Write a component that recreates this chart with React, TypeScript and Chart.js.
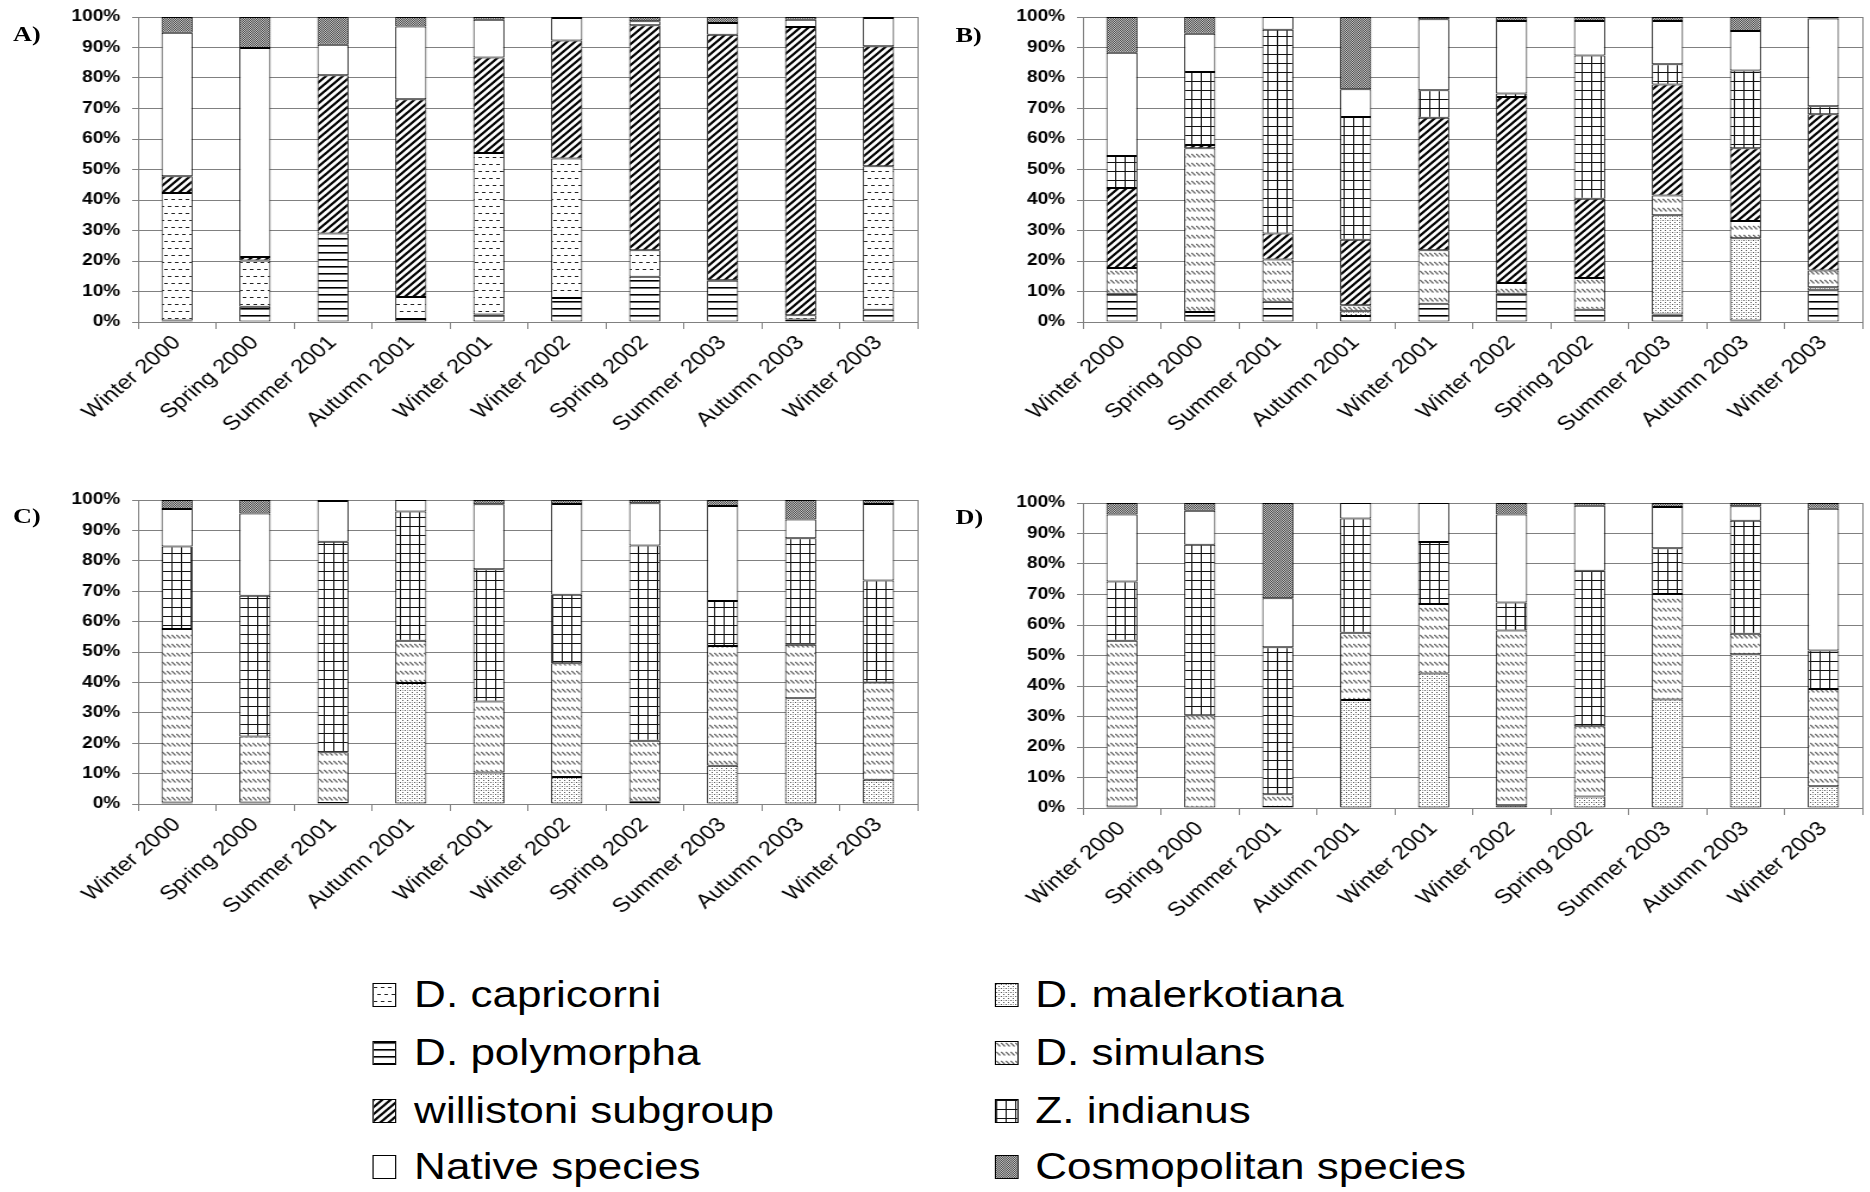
import React, { useEffect, useRef, useMemo } from 'react';
import { Chart, registerables } from 'chart.js';
Chart.register(...registerables);

// ---------- data ----------
const categories = ['Winter 2000', 'Spring 2000', 'Summer 2001', 'Autumn 2001', 'Winter 2001', 'Winter 2002', 'Spring 2002', 'Summer 2003', 'Autumn 2003', 'Winter 2003'];
const yTickLabels = ['0%', '10%', '20%', '30%', '40%', '50%', '60%', '70%', '80%', '90%', '100%'];
const seriesKeys = ['polymorpha', 'capricorni', 'malerkotiana', 'simulans', 'willistoni', 'indianus', 'native', 'cosmopolitan'];
const seriesNames = ['D. polymorpha', 'D. capricorni', 'D. malerkotiana', 'D. simulans', 'willistoni subgroup', 'Z. indianus', 'Native species', 'Cosmopolitan species'];
const zeros = [0, 0, 0, 0, 0, 0, 0, 0, 0, 0];

// Panel A
const A_polymorpha = [0.5, 5, 29, 1, 2.5, 7.9, 14.8, 13.7, 0.8, 4];
const A_capricorni = [41.8, 15.2, 0, 7.2, 52.9, 45.7, 8.7, 0, 1.4, 47.1];
const A_malerkotiana = zeros;
const A_simulans = zeros;
const A_willistoni = [5.5, 1.1, 51.9, 64.8, 31.3, 38.7, 73.8, 80.5, 94.5, 39.3];
const A_indianus = zeros;
const A_native = [47, 68.5, 10, 23.9, 12.4, 7.4, 1.3, 3.8, 2.4, 9.3];
const A_cosmopolitan = [5.2, 10.2, 9.1, 3.1, 0.9, 0.3, 1.4, 2.0, 0.9, 0.3];

// Panel B
const B_polymorpha = [9.3, 3.3, 6.6, 2, 6.0, 9.3, 4.0, 2.5, 0.5, 10.4];
const B_capricorni = zeros;
const B_malerkotiana = [0, 0, 0, 1.5, 0, 0, 0, 32.5, 27, 1];
const B_simulans = [8.4, 53.7, 13.9, 2, 17.5, 3.5, 10.4, 6.5, 5.6, 5.5];
const B_willistoni = [26.2, 1, 8.5, 21.5, 43.5, 61, 26, 36.4, 23.9, 51.2];
const B_indianus = [10.5, 24, 66.8, 40.2, 9, 1.1, 47, 6.6, 25.5, 2.6];
const B_native = [33.9, 12.5, 4.2, 9.1, 23.3, 23.8, 11.3, 14.2, 12.9, 28.8];
const B_cosmopolitan = [11.7, 5.5, 0, 23.7, 0.7, 1.3, 1.3, 1.3, 4.6, 0.5];

// Panel C
const C_polymorpha = zeros;
const C_capricorni = zeros;
const C_malerkotiana = [0.5, 0.5, 0.3, 39.8, 10.4, 8.9, 0.7, 12.6, 34.8, 8.0];
const C_simulans = [57.1, 21.7, 16.7, 13.9, 23.3, 37.4, 20.1, 39.4, 17.6, 32.0];
const C_willistoni = zeros;
const C_indianus = [27.1, 46.3, 69.3, 42.5, 43.5, 22.5, 64.2, 14.8, 35.0, 33.5];
const C_native = [12.3, 27.1, 13.4, 3.8, 21.4, 29.9, 13.9, 31.2, 6.2, 25.2];
const C_cosmopolitan = [3.0, 4.4, 0.3, 0, 1.4, 1.3, 1.1, 2.0, 6.4, 1.3];

// Panel D
const D_polymorpha = zeros;
const D_capricorni = zeros;
const D_malerkotiana = [0.5, 0, 0.3, 35.4, 44.1, 0.9, 3.8, 35.6, 50.4, 7.1];
const D_simulans = [54.3, 30.4, 4.2, 22.1, 22.8, 57.3, 23.0, 34.6, 6.7, 31.9];
const D_willistoni = zeros;
const D_indianus = [19.5, 55.9, 48.2, 37.4, 20.3, 9.2, 51.0, 15.0, 37.1, 12.6];
const D_native = [21.9, 11.2, 16.1, 5.1, 12.8, 28.8, 21.3, 13.5, 4.7, 46.5];
const D_cosmopolitan = [3.8, 2.5, 31.2, 0, 0, 3.8, 0.9, 1.3, 1.1, 1.9];

const legendCol1 = ['capricorni', 'polymorpha', 'willistoni', 'native'];
const legendCol2 = ['malerkotiana', 'simulans', 'indianus', 'cosmopolitan'];

// ---------- styling ----------
const SX = 1.19;
const SANS = "'Liberation Sans', Arial, sans-serif";
const SERIF = "'Liberation Serif', 'Times New Roman', serif";

function makeTile(kind: string): HTMLCanvasElement {
  const c = document.createElement('canvas');
  const g = c.getContext('2d')!;
  const set = (w: number, h: number) => {
    c.width = w; c.height = h;
    g.fillStyle = '#fff'; g.fillRect(0, 0, w, h);
  };
  switch (kind) {
    case 'polymorpha':
      set(6, 7);
      g.fillStyle = '#000'; g.fillRect(0, 0, 6, 1);
      g.fillStyle = '#666'; g.fillRect(0, 1, 6, 1);
      break;
    case 'capricorni':
      set(6, 14);
      g.fillStyle = '#222';
      g.fillRect(0, 3, 3, 1);
      g.fillRect(3, 10, 3, 1);
      break;
    case 'malerkotiana':
      set(4, 4);
      g.fillStyle = '#555';
      g.fillRect(0, 0, 1, 1);
      g.fillRect(2, 2, 1, 1);
      g.fillStyle = '#aaa';
      g.fillRect(2, 0, 1, 1);
      break;
    case 'simulans':
      set(4, 9);
      g.strokeStyle = '#666'; g.lineWidth = 1.2;
      g.beginPath(); g.moveTo(0.3, 1); g.lineTo(3.5, 4.5); g.stroke();
      break;
    case 'willistoni':
      set(7, 7);
      g.strokeStyle = '#000'; g.lineWidth = 2.2;
      g.beginPath();
      g.moveTo(-1, 8); g.lineTo(8, -1);
      g.moveTo(-1, 1); g.lineTo(1, -1);
      g.moveTo(6, 8); g.lineTo(8, 6);
      g.stroke();
      break;
    case 'indianus':
      set(8, 9);
      g.fillStyle = '#111';
      g.fillRect(0, 0, 8, 1);
      g.fillRect(0, 0, 1, 9);
      break;
    case 'cosmopolitan':
      set(2, 2);
      g.fillStyle = '#c4c4c4'; g.fillRect(0, 0, 2, 2);
      g.fillStyle = '#4a4a4a'; g.fillRect(0, 0, 1, 1); g.fillRect(1, 1, 1, 1);
      break;
    default:
      set(2, 2);
  }
  return c;
}

const rightBorder = {
  id: 'rightBorder',
  afterDraw(chart: any) {
    const { ctx, chartArea } = chart;
    ctx.save();
    ctx.strokeStyle = '#808080';
    ctx.lineWidth = 1;
    ctx.beginPath();
    const x = Math.round(chartArea.right) + 0.5;
    ctx.moveTo(x, chartArea.top);
    ctx.lineTo(x, chartArea.bottom);
    ctx.stroke();
    ctx.restore();
  },
};

type Plot = { left: number; top: number; right: number; bottom: number };

function Panel(props: { left: number; top: number; width: number; height: number; plot: Plot; series: number[][] }) {
  const { left, top, width, height, plot, series } = props;
  const ref = useRef<HTMLCanvasElement>(null);
  useEffect(() => {
    const canvas = ref.current!;
    const ctx = canvas.getContext('2d')!;
    const datasets = seriesKeys.map((k, i) => ({
      label: seriesNames[i],
      data: series[i],
      backgroundColor: ctx.createPattern(makeTile(k), 'repeat') as any,
      borderColor: '#000',
      borderWidth: 1,
      borderSkipped: false as any,
      categoryPercentage: 0.4,
      barPercentage: 1,
    }));
    const chart = new Chart(canvas, {
      type: 'bar',
      data: { labels: categories, datasets },
      options: {
        responsive: false,
        animation: false,
        devicePixelRatio: 1,
        layout: { padding: { left: 0, top: plot.top, right: width - plot.right, bottom: 0 } },
        plugins: { legend: { display: false }, tooltip: { enabled: false } },
        scales: {
          x: {
            stacked: true,
            grid: { offset: true, drawOnChartArea: false, drawTicks: true, tickLength: 7, color: '#808080' },
            border: { color: '#808080' },
            ticks: {
              autoSkip: false, minRotation: 45, maxRotation: 45, padding: 2,
              color: '#000', font: { family: SANS, size: 20 },
            },
            afterFit: (s: any) => { s.height = height - plot.bottom; s.paddingLeft = 0; s.paddingRight = 0; },
          },
          y: {
            stacked: true, min: 0, max: 100,
            grid: { color: '#808080', tickLength: 5 },
            border: { color: '#808080' },
            ticks: {
              stepSize: 10, padding: 10, color: '#000',
              font: { family: SANS, size: 16, weight: 'bold' },
              callback: (_v: any, i: number) => yTickLabels[i],
            },
            afterFit: (s: any) => { s.width = plot.left; s.paddingTop = 0; s.paddingBottom = 0; },
          },
        },
      },
      plugins: [rightBorder],
    } as any);
    return () => chart.destroy();
  }, []);
  return (
    <canvas ref={ref} width={width} height={height}
      style={{ position: 'absolute', left, top, width: width + 'px', height: height + 'px' }} />
  );
}

function PanelLabel({ text, left, baseline }: { text: string; left: number; baseline: number }) {
  return (
    <div style={{ position: 'absolute', left, top: baseline - 18.4, fontFamily: SERIF, fontWeight: 'bold', fontSize: 22, lineHeight: '22px', color: '#000', whiteSpace: 'nowrap' }}>{text}</div>
  );
}

export default function App() {
  const tileUrls = useMemo(() => {
    const m: Record<string, string> = {};
    seriesKeys.forEach((k) => { m[k] = makeTile(k).toDataURL(); });
    return m;
  }, []);

  const rowsCenter = [995, 1053, 1111, 1167];
  const legendItem = (key: string, swatchX: number, textX: number, center: number) => (
    <React.Fragment key={key}>
      <div style={{ position: 'absolute', left: swatchX, top: center - 12, width: 20, height: 24, boxSizing: 'border-box', border: '1px solid #000', backgroundImage: `url(${tileUrls[key]})`, backgroundRepeat: 'repeat' }} />
      <div style={{ position: 'absolute', left: textX, top: center - 19.6, fontFamily: SANS, fontSize: 37, lineHeight: '40px', color: '#000', whiteSpace: 'nowrap' }}>
        {seriesNames[seriesKeys.indexOf(key)]}
      </div>
    </React.Fragment>
  );

  return (
    <div style={{ position: 'absolute', left: 0, top: 0, width: 1570, height: 1192, background: '#fff', transform: `scaleX(${SX})`, transformOrigin: '0 0', overflow: 'hidden' }}>
      <Panel left={0} top={0} width={785} height={490} plot={{ left: 116, top: 17, right: 771, bottom: 322 }}
        series={[A_polymorpha, A_capricorni, A_malerkotiana, A_simulans, A_willistoni, A_indianus, A_native, A_cosmopolitan]} />
      <Panel left={785} top={0} width={785} height={490} plot={{ left: 125, top: 17, right: 780, bottom: 322 }}
        series={[B_polymorpha, B_capricorni, B_malerkotiana, B_simulans, B_willistoni, B_indianus, B_native, B_cosmopolitan]} />
      <Panel left={0} top={490} width={785} height={470} plot={{ left: 116, top: 10, right: 771, bottom: 314 }}
        series={[C_polymorpha, C_capricorni, C_malerkotiana, C_simulans, C_willistoni, C_indianus, C_native, C_cosmopolitan]} />
      <Panel left={785} top={490} width={785} height={470} plot={{ left: 125, top: 13, right: 780, bottom: 318 }}
        series={[D_polymorpha, D_capricorni, D_malerkotiana, D_simulans, D_willistoni, D_indianus, D_native, D_cosmopolitan]} />
      <PanelLabel text="A)" left={11} baseline={41} />
      <PanelLabel text="B)" left={803} baseline={42} />
      <PanelLabel text="C)" left={11} baseline={523} />
      <PanelLabel text="D)" left={803} baseline={524} />
      {legendCol1.map((k, i) => legendItem(k, 313, 348, rowsCenter[i]))}
      {legendCol2.map((k, i) => legendItem(k, 836, 870, rowsCenter[i]))}
    </div>
  );
}
